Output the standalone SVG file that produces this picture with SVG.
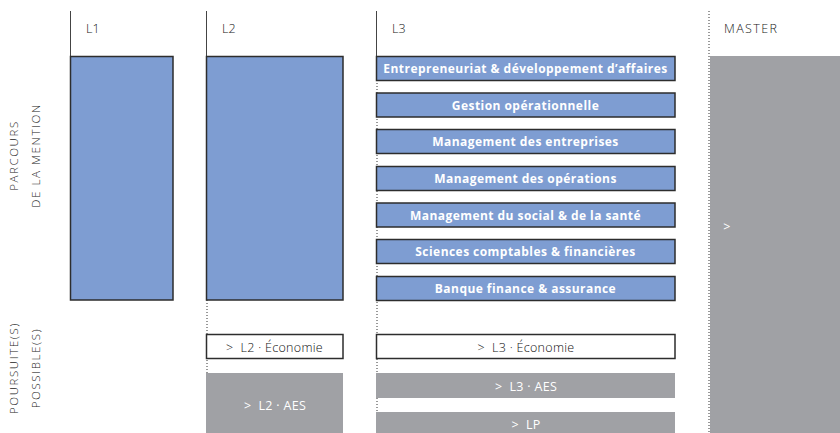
<svg xmlns="http://www.w3.org/2000/svg" width="840" height="433" viewBox="0 0 840 433">
<style>
.hdr{font-family:"Open Sans","Liberation Sans",sans-serif;font-weight:300;font-size:12.5px;fill:#222;}
.side{font-family:"Open Sans","Liberation Sans",sans-serif;font-weight:300;font-size:11.5px;fill:#222;letter-spacing:1.6px;text-anchor:middle;}
.blue{fill:#7e9dd2;stroke:#2d2d2d;stroke-width:1.5;}
.white{fill:#fff;stroke:#2d2d2d;stroke-width:1.5;}
.grey{fill:#a0a1a5;}
.lbl{font-family:"Open Sans","Liberation Sans",sans-serif;font-weight:700;font-size:12px;fill:#fff;text-anchor:middle;letter-spacing:0.45px;}
.plain{font-family:"Open Sans","Liberation Sans",sans-serif;font-weight:300;font-size:12.5px;fill:#111;text-anchor:middle;letter-spacing:0.3px;white-space:pre;}
.plainw{font-family:"Open Sans","Liberation Sans",sans-serif;font-weight:400;font-size:12.5px;fill:#fff;text-anchor:middle;letter-spacing:0.3px;white-space:pre;}
.solid{stroke:#444;stroke-width:1;fill:none;}
.dot{stroke:#333;stroke-width:1;stroke-dasharray:1 2;fill:none;}
</style>
<g id="connectors">
<line class="solid" x1="70.5" y1="11" x2="70.5" y2="56"/>
<line class="solid" x1="206.5" y1="11" x2="206.5" y2="56"/>
<line class="solid" x1="376.5" y1="11" x2="376.5" y2="56"/>
<line class="dot" x1="207" y1="300" x2="207" y2="433"/>
<line class="dot" x1="377" y1="80" x2="377" y2="433"/>
<line class="dot" x1="709" y1="11" x2="709" y2="433"/>
</g>
<g id="side-labels">
<text class="side" transform="translate(18,155.5) rotate(-90)">PARCOURS</text>
<text class="side" transform="translate(40,155.5) rotate(-90)">DE LA MENTION</text>
<text class="side" transform="translate(18,368) rotate(-90)">POURSUITE(S)</text>
<text class="side" transform="translate(40,368) rotate(-90)">POSSIBLE(S)</text>
</g>
<g id="headers">
<text class="hdr" x="86" y="33">L1</text>
<text class="hdr" x="222" y="33">L2</text>
<text class="hdr" x="392" y="33">L3</text>
<text class="hdr" x="724" y="33" letter-spacing="1.4">MASTER</text>
</g>
<g id="l1"><rect class="blue" x="70.5" y="56.5" width="102.5" height="243.5"/></g>
<g id="l2"><rect class="blue" x="206.5" y="56.5" width="136.5" height="243.5"/></g>
<g id="l3-1"><rect class="blue" x="376.5" y="56.5" width="298.5" height="24"/><text class="lbl" x="525.5" y="73">Entrepreneuriat &amp; développement d’affaires</text></g>
<g id="l3-2"><rect class="blue" x="376.5" y="93" width="298.5" height="24"/><text class="lbl" x="525.5" y="109.5">Gestion opérationnelle</text></g>
<g id="l3-3"><rect class="blue" x="376.5" y="129.5" width="298.5" height="24"/><text class="lbl" x="525.5" y="146">Management des entreprises</text></g>
<g id="l3-4"><rect class="blue" x="376.5" y="166.5" width="298.5" height="24"/><text class="lbl" x="525.5" y="183">Management des opérations</text></g>
<g id="l3-5"><rect class="blue" x="376.5" y="203" width="298.5" height="24"/><text class="lbl" x="525.5" y="219.5">Management du social &amp; de la santé</text></g>
<g id="l3-6"><rect class="blue" x="376.5" y="239.5" width="298.5" height="24"/><text class="lbl" x="525.5" y="256">Sciences comptables &amp; financières</text></g>
<g id="l3-7"><rect class="blue" x="376.5" y="276.5" width="298.5" height="24"/><text class="lbl" x="525.5" y="293">Banque finance &amp; assurance</text></g>
<g id="l2-eco"><rect class="white" x="206.5" y="334.5" width="136.5" height="24"/><text class="plain" x="274.5" y="351.5" xml:space="preserve">&gt;  L2 · Économie</text></g>
<g id="l2-aes"><rect class="grey" x="206" y="373" width="137" height="60"/><text class="plainw" x="275" y="410" xml:space="preserve">&gt;  L2 · AES</text></g>
<g id="l3-eco"><rect class="white" x="376.5" y="334.5" width="298.5" height="24"/><text class="plain" x="526" y="351.5" xml:space="preserve">&gt;  L3 · Économie</text></g>
<g id="l3-aes"><rect class="grey" x="376" y="373" width="299" height="25"/><text class="plainw" x="526" y="390.5" xml:space="preserve">&gt;  L3 · AES</text></g>
<g id="lp"><rect class="grey" x="376" y="412" width="299" height="21"/><text class="plainw" x="526" y="429" xml:space="preserve">&gt;  LP</text></g>
<g id="master"><rect class="grey" x="710" y="56" width="130" height="377"/><text class="plainw" x="727" y="231">&gt;</text></g>
</svg>
